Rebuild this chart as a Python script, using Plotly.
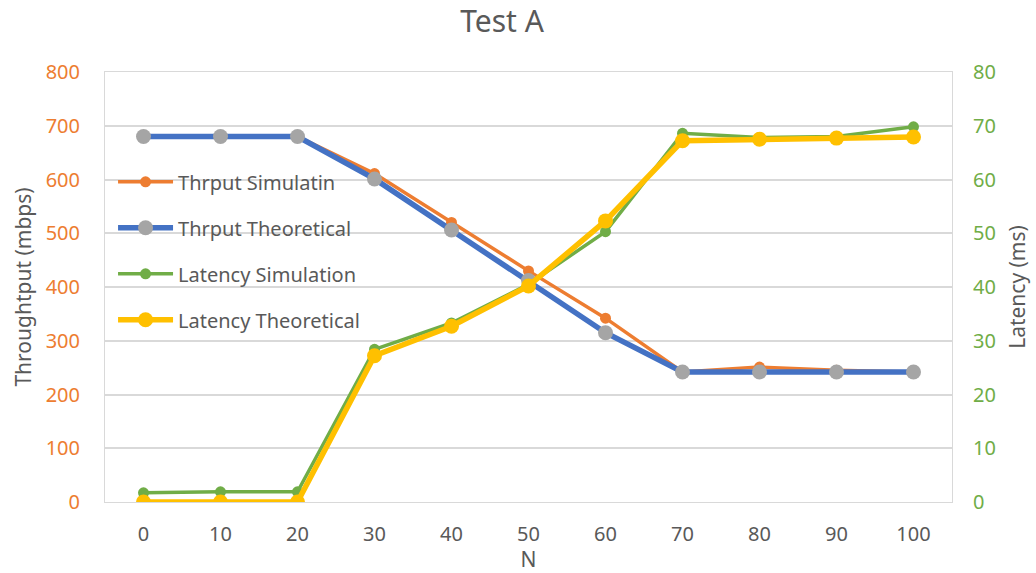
import plotly.graph_objects as go

N = [0, 10, 20, 30, 40, 50, 60, 70, 80, 90, 100]
thr_sim = [680, 680, 680, 611, 520, 430, 342, 242, 251, 245, 242]
thr_theo = [680, 680, 680, 601, 506, 412, 315, 242, 242, 242, 242]
lat_sim = [1.7, 1.9, 1.9, 28.4, 33.3, 40.5, 50.3, 68.6, 67.8, 68.0, 69.8]
lat_theo = [0, 0, 0, 27.2, 32.7, 40.2, 52.3, 67.2, 67.5, 67.7, 67.9]

ORANGE = "#ED7D31"
BLUE = "#4472C4"
GRAY = "#A5A5A5"
GREEN = "#70AD47"
YELLOW = "#FFC000"
TXT = "#595959"
GRID = "#D9D9D9"
FONT = "Noto Sans"

fig = go.Figure()
fig.add_trace(go.Scatter(x=N, y=thr_sim, name="Thrput Simulatin", mode="lines+markers",
                         line=dict(color=ORANGE, width=3.5), marker=dict(color=ORANGE, size=11),
                         legendgroup="a"))
fig.add_trace(go.Scatter(x=N, y=thr_theo, name="Thrput Theoretical", mode="lines+markers",
                         line=dict(color=BLUE, width=5.5), marker=dict(color=GRAY, size=15),
                         legendgroup="b"))
fig.add_trace(go.Scatter(x=N, y=lat_sim, name="Latency Simulation", mode="lines+markers",
                         line=dict(color=GREEN, width=3.5), marker=dict(color=GREEN, size=11),
                         yaxis="y2", legendgroup="c"))
fig.add_trace(go.Scatter(x=N, y=lat_theo, name="Latency Theoretical", mode="lines+markers",
                         line=dict(color=YELLOW, width=5.5), marker=dict(color=YELLOW, size=15),
                         yaxis="y2", legendgroup="d"))

fig.update_layout(
    width=1036, height=573,
    paper_bgcolor="white", plot_bgcolor="white",
    margin=dict(l=105, r=84, t=72, b=71),
    font=dict(family=FONT, color=TXT, size=20),
    title=dict(text="Test A", x=0.4846, xanchor="center", y=0.962, yanchor="middle",
               font=dict(size=30, color=TXT, family=FONT)),
    xaxis=dict(range=[-5, 105], tickvals=N, ticktext=[str(v) for v in N],
               showgrid=False, zeroline=False, showline=True, linecolor=GRID, mirror=True,
               ticks="", tickfont=dict(size=20, color=TXT), ticklabelstandoff=14,
               automargin=False,
               title=dict(text="N", font=dict(size=21, color=TXT), standoff=14)),
    yaxis=dict(range=[0, 800], dtick=100, showgrid=True, gridcolor=GRID, gridwidth=2,
               zeroline=False, showline=True, linecolor=GRID, mirror=True, ticks="",
               tickfont=dict(size=20, color=ORANGE), ticklabelstandoff=20,
               automargin=False,
               title=dict(text="Throughtput (mbps)", font=dict(size=21, color=TXT), standoff=8)),
    yaxis2=dict(range=[0, 80], dtick=10, overlaying="y", side="right", showgrid=False,
                zeroline=False, showline=False, ticks="",
                tickfont=dict(size=20, color=GREEN), ticklabelstandoff=20,
                automargin=False,
                title=dict(text="Latency (ms)", font=dict(size=21, color=TXT), standoff=15)),
    legend=dict(x=0.0095, y=0.79, xanchor="left", yanchor="top", bgcolor="rgba(0,0,0,0)",
                font=dict(size=20, color=TXT), tracegroupgap=17, itemwidth=55),
    showlegend=True,
)

fig.write_html("out.html")
